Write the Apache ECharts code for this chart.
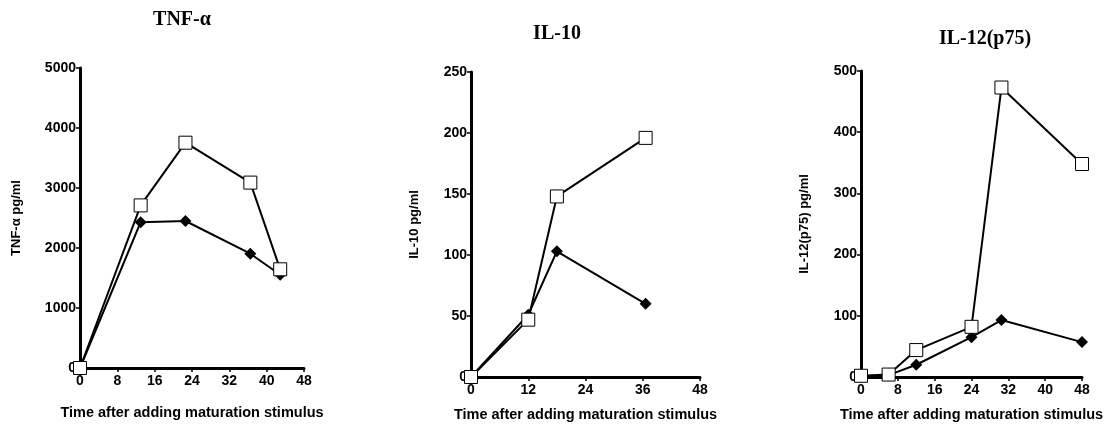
<!DOCTYPE html>
<html>
<head>
<meta charset="utf-8">
<script src="https://cdn.jsdelivr.net/npm/echarts@6/dist/echarts.min.js"></script>
<style>
  html, body { margin: 0; padding: 0; background: #fff; }
  #main { width: 1119px; height: 427px; }
</style>
</head>
<body>
<div id="main"></div>
<script>
// TNF-alpha panel
const tnfSquare = [[0, 0], [13, 2710], [22.6, 3755], [36.5, 3090], [42.9, 1645]];
const tnfDiamond = [[0, 0], [13, 2430], [22.6, 2450], [36.5, 1905], [42.9, 1555]];
// IL-10 panel
const il10Square = [[0, 0], [12, 47], [18, 148], [36.6, 196]];
const il10Diamond = [[0, 0], [12, 51], [18, 103], [36.6, 60]];
// IL-12(p75) panel
const il12Square = [[0, 2], [6, 4], [12, 44], [24, 82], [30.5, 473], [48, 348]];
const il12Diamond = [[0, 0], [6, 3], [12, 20], [24, 65], [30.5, 93], [48, 57]];

const titles = ["TNF-\u03b1", "IL-10", "IL-12(p75)"];
const yNames = ["TNF-\u03b1 pg/ml", "IL-10 pg/ml", "IL-12(p75) pg/ml"];
const xName = "Time after adding maturation stimulus";

const grids = [
  { left: 80, top: 68, width: 224, height: 300 },
  { left: 471, top: 72, width: 229, height: 309 },
  { left: 861, top: 71, width: 221, height: 308 }
];
const xIntervals = [8, 12, 8];
const yMax = [5000, 250, 500];
const yIntervals = [1000, 50, 100];
const titlePos = [[177, 5], [552, 19], [980, 24]];

const font = "Liberation Sans, Arial, sans-serif";
const axisLine = { show: true, onZero: false, lineStyle: { color: "#000", width: 3 } };
const axisTick = { show: true, length: 4, lineStyle: { color: "#000", width: 1.5 } };
const labelStyle = { color: "#000", fontFamily: font, fontWeight: "bold", fontSize: 14, formatter: (v) => String(v) };

let options = {
  animation: false,
  backgroundColor: "#fff",
  title: titles.map((t, i) => ({
    text: t,
    left: titlePos[i][0],
    top: titlePos[i][1],
    textAlign: "center",
    textStyle: { fontFamily: "Liberation Serif, Times New Roman, serif", fontWeight: "bold", fontSize: 20, color: "#000" }
  })),
  grid: grids,
  xAxis: grids.map((g, i) => ({
    type: "value",
    gridIndex: i,
    min: 0,
    max: 48,
    interval: xIntervals[i],
    name: xName,
    nameLocation: "middle",
    nameGap: i === 0 ? 37 : 30,
    nameTextStyle: { color: "#000", fontFamily: font, fontWeight: "bold", fontSize: 14.5 },
    axisLine: axisLine,
    axisTick: axisTick,
    axisLabel: Object.assign({ margin: 6 }, labelStyle),
    splitLine: { show: false }
  })),
  yAxis: grids.map((g, i) => ({
    type: "value",
    gridIndex: i,
    min: 0,
    max: yMax[i],
    interval: yIntervals[i],
    name: yNames[i],
    nameLocation: "middle",
    nameGap: i === 0 ? 57 : 50,
    nameTextStyle: { color: "#000", fontFamily: font, fontWeight: "bold", fontSize: 13 },
    axisLine: axisLine,
    axisTick: axisTick,
    axisLabel: Object.assign({ margin: 4 }, labelStyle),
    splitLine: { show: false }
  })),
  series: []
};

const panels = [[tnfDiamond, tnfSquare], [il10Diamond, il10Square], [il12Diamond, il12Square]];
panels.forEach((p, i) => {
  options.series.push({
    type: "line",
    xAxisIndex: i,
    yAxisIndex: i,
    data: p[0],
    symbol: "diamond",
    symbolSize: [12, 12],
    lineStyle: { color: "#000", width: 2 },
    itemStyle: { color: "#000" },
    z: 2
  });
  options.series.push({
    type: "line",
    xAxisIndex: i,
    yAxisIndex: i,
    data: p[1],
    symbol: "rect",
    symbolSize: 13,
    showAllSymbol: true,
    lineStyle: { color: "#000", width: 2 },
    itemStyle: { color: "#fff", borderColor: "#000", borderWidth: 1 },
    z: 3
  });
});

let myChart = echarts.init(document.getElementById("main"));
myChart.setOption(options);
</script>
</body>
</html>
